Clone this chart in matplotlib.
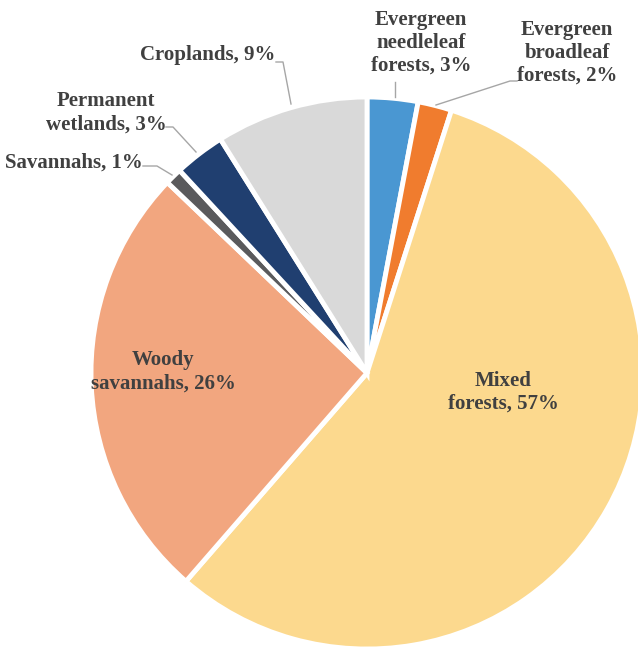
import matplotlib.pyplot as plt

# land cover shares (clockwise from 12 o'clock)
categories = ["Evergreen needleleaf forests", "Evergreen broadleaf forests",
              "Mixed forests", "Woody savannahs", "Savannahs",
              "Permanent wetlands", "Croplands"]
shares = [3, 2, 57, 26, 1, 3, 9]
labels = ["Evergreen\nneedleleaf\nforests, 3%", "Evergreen\nbroadleaf\nforests, 2%",
          "Mixed\nforests, 57%", "Woody\nsavannahs, 26%", "Savannahs, 1%",
          "Permanent\nwetlands, 3%", "Croplands, 9%"]
colors = ["#4a97d2", "#f07c2e", "#fcd98e", "#f2a67f", "#5a5a5c", "#203f70", "#d9d9d9"]

W, H = 638, 653
fig = plt.figure(figsize=(W / 100, H / 100), dpi=100)
ax = fig.add_axes([0, 0, 1, 1])

cx, cy, r = 367, H - 373, 276
explode = [0, 0, 0.02, 0, 0, 0, 0]
wedges, _ = ax.pie(shares, colors=colors, startangle=90, counterclock=False,
                   center=(cx, cy), radius=r, explode=explode,
                   wedgeprops=dict(edgecolor="white", linewidth=3.5))
# pie() resets the limits, so set the pixel frame afterwards
ax.set_xlim(0, W)
ax.set_ylim(0, H)
ax.set_aspect("equal")
ax.axis("off")

font = dict(family="Liberation Serif", fontweight="bold", fontsize=15,
            color="#404040", linespacing=1.2)
# label anchor positions in pixel coordinates (x, y from top)
label_pos = [(421, 43), (567, 53), (503, 392), (163, 372), (74, 163), (106, 113), (208, 55)]
# leader line paths (pixels), None for inside labels
leaders = [
    [(395, 82), (395, 97)],
    [(517, 81), (510, 81), (436, 105)],
    None,
    None,
    [(143, 166), (157, 166), (172, 175)],
    [(166, 127), (173, 127), (196, 152)],
    [(276, 62), (283, 62), (291, 104)],
]
for lab, (x, y), path in zip(labels, label_pos, leaders):
    ax.text(x, H - y, lab, ha="center", va="center", **font)
    if path:
        xs = [p[0] for p in path]
        ys = [H - p[1] for p in path]
        ax.plot(xs, ys, color="#a6a6a6", lw=1)

fig.savefig("out.png", dpi=100)
